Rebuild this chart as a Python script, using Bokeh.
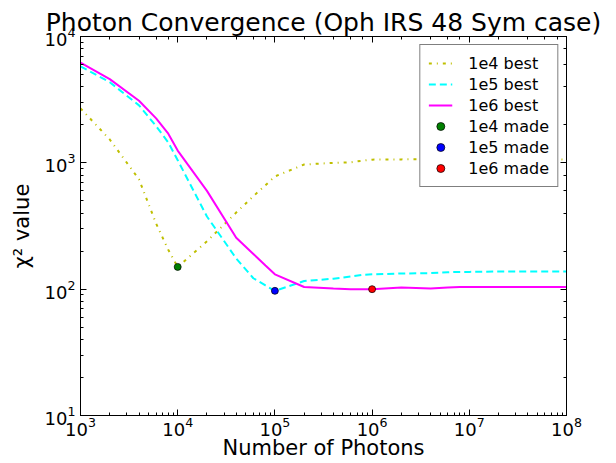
from bokeh.plotting import figure
from bokeh.models import LogAxis, LogTicker
from bokeh.embed import file_html
from bokeh.resources import INLINE

photons = [1e3, 2e3, 4e3, 6e3, 8e3, 1e4, 2e4, 4e4, 6e4, 8e4, 1e5, 2e5, 4e5, 6e5, 8e5,
           1e6, 2e6, 4e6, 6e6, 8e6, 1e7, 2e7, 4e7, 6e7, 8e7, 1e8]
best_1e4 = [2700, 1530, 740, 330, 205, 150, 239, 404, 544, 665, 780, 970, 1000, 1010, 1040,
            1060, 1065, 1070, 1075, 1075, 1075, 1075, 1075, 1070, 1065, 1060]
best_1e5 = [5800, 4350, 2850, 1950, 1450, 1050, 376, 175, 122, 107, 97, 116, 121, 126, 130,
            131, 133, 134, 136, 137, 137, 138, 138, 138, 138, 138]
best_1e6 = [6200, 4600, 3100, 2250, 1700, 1250, 600, 255, 190, 154, 131, 104, 101, 100, 100,
            100, 103, 101, 103, 104, 104, 104, 104, 104, 104, 104]
made_1e4_x = [1e4]
made_1e4_y = [150]
made_1e5_x = [1e5]
made_1e5_y = [97]
made_1e6_x = [1e6]
made_1e6_y = [100]

FONT = "DejaVu Sans"

p = figure(width=616, height=463, x_axis_type="log", y_axis_type="log",
           x_range=(1e3, 1e8), y_range=(10, 1e4),
           title="Photon Convergence (Oph IRS 48 Sym case)",
           output_backend="svg", toolbar_location=None,
           min_border_left=80, min_border_right=50, min_border_top=36, min_border_bottom=48)

p.title.text_font = FONT
p.title.text_font_size = "25px"
p.title.text_font_style = "normal"
p.title.text_color = "black"
p.title.align = "center"
p.title.standoff = 0
p.title.offset = 0

p.line(photons, best_1e4, line_color="#bfbf00", line_width=2, line_dash="3 5 1 5", legend_label="1e4 best")
p.line(photons, best_1e5, line_color="#00ffff", line_width=2, line_dash="7 4", legend_label="1e5 best")
p.line(photons, best_1e6, line_color="#ff00ff", line_width=2, legend_label="1e6 best")
p.scatter(made_1e4_x, made_1e4_y, size=7, fill_color="#008000", line_color="black", line_width=0.7, legend_label="1e4 made")
p.scatter(made_1e5_x, made_1e5_y, size=7, fill_color="#0000ff", line_color="black", line_width=0.7, legend_label="1e5 made")
p.scatter(made_1e6_x, made_1e6_y, size=7, fill_color="#ff0000", line_color="black", line_width=0.7, legend_label="1e6 made")

p.xgrid.visible = False
p.ygrid.visible = False
p.outline_line_color = "black"
p.outline_line_width = 1

p.add_layout(LogAxis(ticker=LogTicker()), "above")
p.add_layout(LogAxis(ticker=LogTicker()), "right")

for ax in p.axis:
    ax.major_tick_in = 6
    ax.major_tick_out = 0
    ax.minor_tick_in = 3
    ax.minor_tick_out = 0
    ax.axis_line_color = "black"
    ax.major_tick_line_color = "black"
    ax.minor_tick_line_color = "black"
    ax.major_label_text_font = FONT
    ax.major_label_text_font_size = "18px"
    ax.major_label_text_color = "black"
    ax.axis_label_text_font = FONT
    ax.axis_label_text_font_style = "normal"
    ax.axis_label_text_font_size = "21px"
    ax.axis_label_text_color = "black"

for ax in (p.above[0], p.right[0]):
    ax.major_label_text_font_size = "1px"
    ax.major_label_text_alpha = 0
    ax.major_label_standoff = 0

bottom = p.below[0]
left = p.left[0]
bottom.axis_label = "Number of Photons"
left.axis_label = "χ² value"
bottom.major_label_standoff = 1
bottom.axis_label_standoff = -3
left.major_label_standoff = 5
left.axis_label_standoff = 8

lg = p.legend[0]
lg.location = "top_right"
lg.border_line_color = "black"
lg.border_line_width = 1
lg.background_fill_color = "white"
lg.background_fill_alpha = 1
lg.label_text_font = FONT
lg.label_text_font_size = "16px"
lg.label_text_color = "black"
lg.label_height = 20
lg.glyph_height = 20
lg.glyph_width = 24
lg.label_standoff = 16
lg.spacing = 1
lg.padding = 8
lg.margin = 8

open("out.html", "w").write(file_html(p, INLINE))
